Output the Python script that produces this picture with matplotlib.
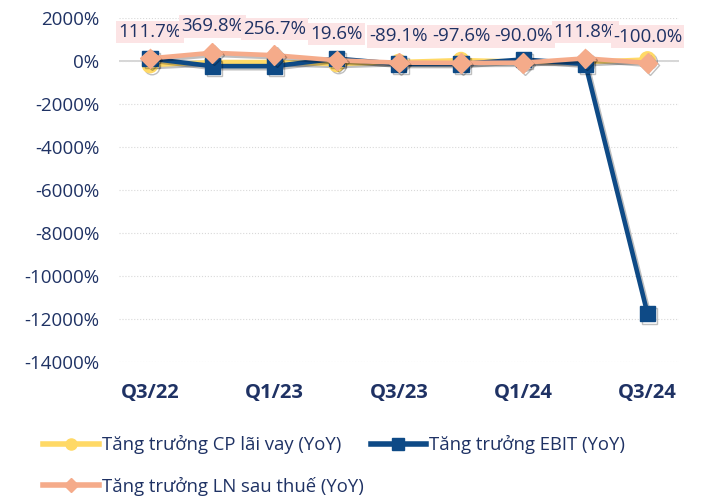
import matplotlib.pyplot as plt
import matplotlib.patheffects as pe
from matplotlib.lines import Line2D
from matplotlib.ticker import FuncFormatter

# Dữ liệu
quy = ['Q3/22', 'Q4/22', 'Q1/23', 'Q2/23', 'Q3/23', 'Q4/23', 'Q1/24', 'Q2/24', 'Q3/24']
cp_lai_vay = [-200, -60, -60, -150, -60, 30, -40, -60, 60]
ebit = [100, -250, -250, 100, -150, -150, 60, -150, -11760]
ln_sau_thue = [111.7, 369.8, 256.7, 19.6, -89.1, -97.6, -90.0, 111.8, -100.0]
nhan_ln = ['111.7%', '369.8%', '256.7%', '19.6%', '-89.1%', '-97.6%', '-90.0%', '111.8%', '-100.0%']

plt.rcParams['font.family'] = ['Open Sans', 'DejaVu Sans']
mau_chu = '#1F3264'
vang, xanh, cam = '#FFD966', '#0E4A86', '#F5AB8A'

fig = plt.figure(figsize=(7.04, 4.99), dpi=100)
ax = fig.add_axes([0.169, 0.2745, 0.795, 0.69])

x = list(range(len(quy)))
bong = [pe.SimpleLineShadow(offset=(1.5, -1.5), alpha=0.25), pe.Normal()]

ax.plot(x, cp_lai_vay, color=vang, lw=3.3, marker='o', ms=11, zorder=3, path_effects=bong)
ax.plot(x, ebit, color=xanh, lw=3.3, marker='s', ms=11, zorder=4, path_effects=bong)
ax.plot(x, ln_sau_thue, color=cam, lw=3.3, marker='D', ms=10, zorder=5, path_effects=bong)

# Nhãn dữ liệu
for xi, yi, t in zip(x, ln_sau_thue, nhan_ln):
    ax.annotate(t, (xi, yi), xytext=(0, 19), textcoords='offset points',
                ha='center', va='center', fontsize=13.5, color=mau_chu, zorder=6,
                bbox=dict(boxstyle='square,pad=0.12', fc='#FCE4E5', ec='none'))

ax.set_xlim(-0.5, 8.5)
ax.set_ylim(-14000, 2000)
ax.set_yticks(range(-14000, 2001, 2000))
ax.yaxis.set_major_formatter(FuncFormatter(lambda v, p: f'{v:.0f}%'))
ax.set_xticks(x[::2])
ax.set_xticklabels(quy[::2], fontweight='bold')
ax.tick_params(axis='y', length=0, colors=mau_chu, labelsize=13.5, pad=14)
ax.tick_params(axis='x', length=0, colors=mau_chu, labelsize=14.5, pad=15)
ax.grid(axis='y', linestyle=':', color='#D9D9D9', lw=0.8)
ax.axhline(0, color='#D0D0D0', lw=1.2, zorder=1)
for s in ax.spines.values():
    s.set_visible(False)

# Chú thích
h_vang = Line2D([], [], color=vang, lw=4, marker='o', ms=8)
h_xanh = Line2D([], [], color=xanh, lw=4, marker='s', ms=8)
h_cam = Line2D([], [], color=cam, lw=4, marker='D', ms=7)
fig.legend([h_vang, h_cam, h_xanh],
           ['Tăng trưởng CP lãi vay (YoY)', 'Tăng trưởng LN sau thuế (YoY)', 'Tăng trưởng EBIT (YoY)'],
           ncol=2, loc='lower left', bbox_to_anchor=(0.038, -0.027), frameon=False,
           fontsize=13.3, labelcolor=mau_chu, handlelength=3.0,
           handletextpad=0.15, columnspacing=0.4, labelspacing=1.22)

fig.savefig('out.png', dpi=100)
